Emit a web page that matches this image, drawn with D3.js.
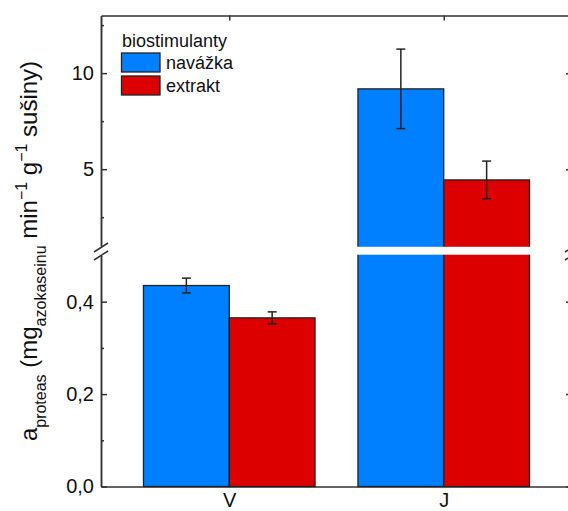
<!DOCTYPE html>
<html>
<head>
<meta charset="utf-8">
<script src="https://cdn.jsdelivr.net/npm/d3@7"></script>
<style>
  html, body { margin: 0; padding: 0; background: #fff; }
  svg { display: block; font-family: "Liberation Sans", Arial, sans-serif; }
</style>
</head>
<body>
<svg id="chart" width="568" height="511"></svg>
<script>
// Protease activity, two biostimulant forms, two sites
const categories = ["V", "J"];
const seriesNames = ["navážka", "extrakt"];
const seriesColors = ["#0080ff", "#dd0000"];
const navazka = [0.435, 9.18];
const navazkaErr = [0.016, 2.07];
const extrakt = [0.365, 4.44];
const extraktErr = [0.013, 0.98];
const legendTitle = "biostimulanty";

// broken y axis: lower part 0–0.5, upper part 1–13
const lowerDomain = [0, 0.5];
const upperDomain = [1, 13];
const lowerMajor = [0, 0.2, 0.4];
const lowerMinor = [0.1, 0.3];
const upperMajor = [5, 10];
const upperMinor = [2.5, 7.5, 12.5];

const series = [
  { name: seriesNames[0], values: navazka, errors: navazkaErr, color: seriesColors[0] },
  { name: seriesNames[1], values: extrakt, errors: extraktErr, color: seriesColors[1] }
];

const left = 101, right = 572;
const yLower = d3.scaleLinear().domain(lowerDomain).range([486.5, 255.5]);
const yUpper = d3.scaleLinear().domain(upperDomain).range([246, 15.5]);
const yVal = v => (v >= upperDomain[0] ? yUpper(v) : yLower(v));

const x = d3.scalePoint().domain(categories).range([left, right]).padding(0.598);
const groupWidth = x.step() * 0.8;
const xs = d3.scaleBand().domain(seriesNames).range([-groupWidth / 2, groupWidth / 2]).padding(0);

const commaLocale = d3.formatLocale({ decimal: ",", thousands: " ", grouping: [3], currency: ["", ""] });
const fmtLower = commaLocale.format(".1f");
const fmtUpper = d3.format("d");

const svg = d3.select("#chart");
const axisColor = "#333";
const fontSize = 20;

function styleAxis(g) {
  g.selectAll("path.domain").attr("stroke", axisColor).attr("stroke-width", 1.5);
  g.selectAll(".tick line").attr("stroke", axisColor).attr("stroke-width", 1.5);
  g.selectAll(".tick text").attr("fill", "#111").attr("font-size", fontSize)
    .attr("font-family", "Liberation Sans, Arial, sans-serif");
}

// left axis, both segments
svg.append("g").attr("transform", `translate(${left},0)`)
  .call(d3.axisLeft(yLower).tickValues(lowerMajor).tickFormat(fmtLower).tickSize(-6).tickSizeOuter(0).tickPadding(7))
  .call(styleAxis);
svg.append("g").attr("transform", `translate(${left},0)`)
  .call(d3.axisLeft(yLower).tickValues(lowerMinor).tickFormat("").tickSize(-3).tickSizeOuter(0))
  .call(styleAxis);
svg.append("g").attr("transform", `translate(${left},0)`)
  .call(d3.axisLeft(yUpper).tickValues(upperMajor).tickFormat(fmtUpper).tickSize(-6).tickSizeOuter(0).tickPadding(7))
  .call(styleAxis);
svg.append("g").attr("transform", `translate(${left},0)`)
  .call(d3.axisLeft(yUpper).tickValues(upperMinor).tickFormat("").tickSize(-3).tickSizeOuter(0))
  .call(styleAxis);

// right axis, both segments, no labels
[[yLower, lowerMajor, lowerMinor], [yUpper, upperMajor, upperMinor]].forEach(([sc, maj, mino]) => {
  svg.append("g").attr("transform", `translate(${right},0)`)
    .call(d3.axisRight(sc).tickValues(maj).tickFormat("").tickSize(-6).tickSizeOuter(0))
    .call(styleAxis);
  svg.append("g").attr("transform", `translate(${right},0)`)
    .call(d3.axisRight(sc).tickValues(mino).tickFormat("").tickSize(-3).tickSizeOuter(0))
    .call(styleAxis);
});

// top frame and bottom axis
svg.append("g").attr("transform", `translate(0,${yUpper(upperDomain[1])})`)
  .call(d3.axisTop(x).tickFormat("").tickSize(-5).tickSizeOuter(0))
  .call(styleAxis);
svg.append("g").attr("transform", `translate(0,${yLower(0)})`)
  .call(d3.axisBottom(x).tickSize(-5).tickSizeOuter(0).tickPadding(6))
  .call(styleAxis);

// bars
const barG = svg.append("g");
series.forEach(s => {
  categories.forEach((c, i) => {
    const v = s.values[i];
    barG.append("rect")
      .attr("x", x(c) + xs(s.name))
      .attr("width", xs.bandwidth())
      .attr("y", yVal(v))
      .attr("height", yLower(0) - yVal(v))
      .attr("fill", s.color)
      .attr("stroke", "#222")
      .attr("stroke-width", 1.3);
  });
});

// error bars
const errG = svg.append("g").attr("stroke", "#222").attr("stroke-width", 1.5);
series.forEach(s => {
  categories.forEach((c, i) => {
    const v = s.values[i], e = s.errors[i];
    const cx = x(c) + xs(s.name) + xs.bandwidth() / 2;
    const y1 = yVal(v + e), y2 = yVal(v - e);
    errG.append("line").attr("x1", cx).attr("x2", cx).attr("y1", y1).attr("y2", y2);
    errG.append("line").attr("x1", cx - 4.5).attr("x2", cx + 4.5).attr("y1", y1).attr("y2", y1);
    errG.append("line").attr("x1", cx - 4.5).attr("x2", cx + 4.5).attr("y1", y2).attr("y2", y2);
  });
});

// gap between the axis segments
const gapTop = yUpper(upperDomain[0]), gapBottom = yLower(lowerDomain[1]);
svg.append("rect")
  .attr("x", left + 1).attr("width", right - left - 2)
  .attr("y", gapTop + 0.8).attr("height", gapBottom - gapTop - 1.6)
  .attr("fill", "#fff");

// break marks
[left, right].forEach(ax => {
  [gapTop + 1.5, gapBottom].forEach(yc => {
    svg.append("line")
      .attr("x1", ax - 7).attr("y1", yc + 4.5)
      .attr("x2", ax + 7).attr("y2", yc - 4.5)
      .attr("stroke", axisColor).attr("stroke-width", 1.5);
  });
});

// legend
const lg = svg.append("g").attr("font-size", 18).attr("fill", "#111");
lg.append("text").attr("x", 122).attr("y", 47).text(legendTitle);
series.forEach((s, i) => {
  const yTop = 53 + i * 23;
  lg.append("rect").attr("x", 121.5).attr("y", yTop).attr("width", 38.5).attr("height", 19)
    .attr("fill", s.color).attr("stroke", "#222").attr("stroke-width", 1.3);
  lg.append("text").attr("x", 166).attr("y", yTop + 15.5).text(s.name);
});

// y axis title with sub- and superscripts
const yt = svg.append("text")
  .attr("transform", "translate(37,251) rotate(-90)")
  .attr("text-anchor", "middle")
  .attr("font-size", 24)
  .attr("fill", "#111");
yt.append("tspan").text("a");
yt.append("tspan").attr("font-size", 16).attr("dy", 9).text("proteas");
yt.append("tspan").attr("dy", -9).text(" (mg");
yt.append("tspan").attr("font-size", 16).attr("dy", 9).text("azokaseinu");
yt.append("tspan").attr("dy", -9).text(" min");
yt.append("tspan").attr("font-size", 16).attr("dy", -10).text("−1");
yt.append("tspan").attr("dy", 10).text(" g");
yt.append("tspan").attr("font-size", 16).attr("dy", -10).text("−1");
yt.append("tspan").attr("dy", 10).text(" sušiny)");
</script>
</body>
</html>
